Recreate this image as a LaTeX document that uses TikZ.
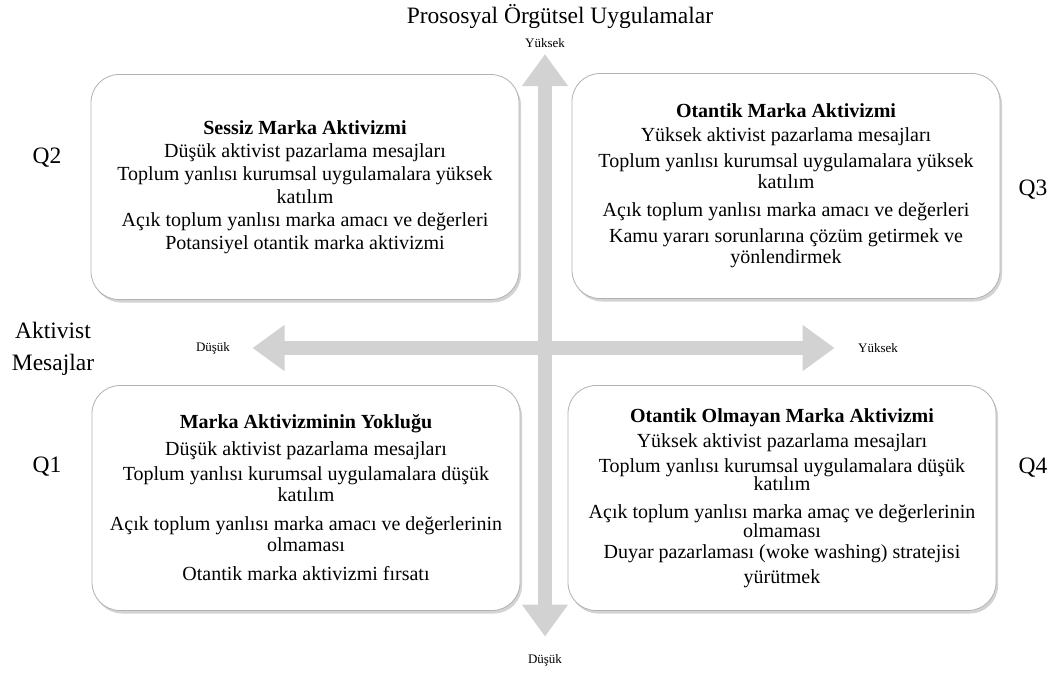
\documentclass[tikz,border=0pt]{standalone}
\usepackage{fontspec}
\setmainfont{Liberation Serif}
\usetikzlibrary{arrows.meta, positioning, shadows}

\begin{document}
\begin{tikzpicture}[
      x=1pt, y=-1pt,
      quad/.style={rectangle, rounded corners=28pt, draw=gray!60, line width=0.8pt, fill=white,
                   drop shadow={shadow xshift=2pt, shadow yshift=-3pt, opacity=0.35},
                   minimum width=428pt, minimum height=225pt, align=center,
                   font=\fontsize{20}{21}\selectfont},
      axis/.style={line width=14pt, draw=gray!35, {Triangle[length=32pt, width=44pt]}-{Triangle[length=32pt, width=44pt]}},
      big/.style={font=\fontsize{23.5}{32}\selectfont},
      tick/.style={font=\fontsize{13}{15}\selectfont}
  ]
      \useasboundingbox (0,0) rectangle (1057,673);

      % Axis titles
      \node[big] (T) at (560,17) {Prososyal Örgütsel Uygulamalar};
      \node[big, align=center] (AM) at (53,349) {Aktivist\\Mesajlar};

      % Axis ends
      \node[tick] (yhi) at (545,43) {Yüksek};
      \node[tick] (ylo) at (545,660) {Düşük};
      \node[tick] (xlo) at (213,348) {Düşük};
      \node[tick] (xhi) at (878,348) {Yüksek};

      % Axes
      \draw[axis, shorten <=3pt, shorten >=14pt] (yhi) -- (ylo);
      \draw[axis, shorten <=19pt, shorten >=20pt] (xlo) -- (xhi);

      % Quadrant labels
      \node[big] (Q2) at (47,158) {Q2};
      \node[big] (Q3) at (1033,190) {Q3};
      \node[big] (Q1) at (47,467) {Q1};
      \node[big] (Q4) at (1033,468) {Q4};

      % Quadrant boxes
      \node[quad] (B2) at (305,187) {\textbf{Sessiz Marka Aktivizmi}\\[2pt]
            Düşük aktivist pazarlama mesajları\\[2pt]
            Toplum yanlısı kurumsal uygulamalara yüksek\\[2pt]
            katılım\\[2pt]
            Açık toplum yanlısı marka amacı ve değerleri\\[2pt]
            Potansiyel otantik marka aktivizmi};
      \node[quad] (B3) at (786,186) {\textbf{Otantik Marka Aktivizmi}\\[3pt]
            Yüksek aktivist pazarlama mesajları\\[5pt]
            Toplum yanlısı kurumsal uygulamalara yüksek\\
            katılım\\[7pt]
            Açık toplum yanlısı marka amacı ve değerleri\\[5pt]
            Kamu yararı sorunlarına çözüm getirmek ve\\
            yönlendirmek};
      \node[quad] (B1) at (306,498) {\textbf{Marka Aktivizminin Yokluğu}\\[6pt]
            Düşük aktivist pazarlama mesajları\\[4pt]
            Toplum yanlısı kurumsal uygulamalara düşük\\
            katılım\\[8pt]
            Açık toplum yanlısı marka amacı ve değerlerinin\\
            olmaması\\[8pt]
            Otantik marka aktivizmi fırsatı};
      \node[quad] (B4) at (782,498) {\textbf{Otantik Olmayan Marka Aktivizmi}\\[4pt]
            Yüksek aktivist pazarlama mesajları\\[4pt]
            Toplum yanlısı kurumsal uygulamalara düşük\\[-3pt]
            katılım\\[7pt]
            Açık toplum yanlısı marka amaç ve değerlerinin\\[-2pt]
            olmaması\\
            Duyar pazarlaması (woke washing) stratejisi\\[4pt]
            yürütmek};
  \end{tikzpicture}
\end{document}
